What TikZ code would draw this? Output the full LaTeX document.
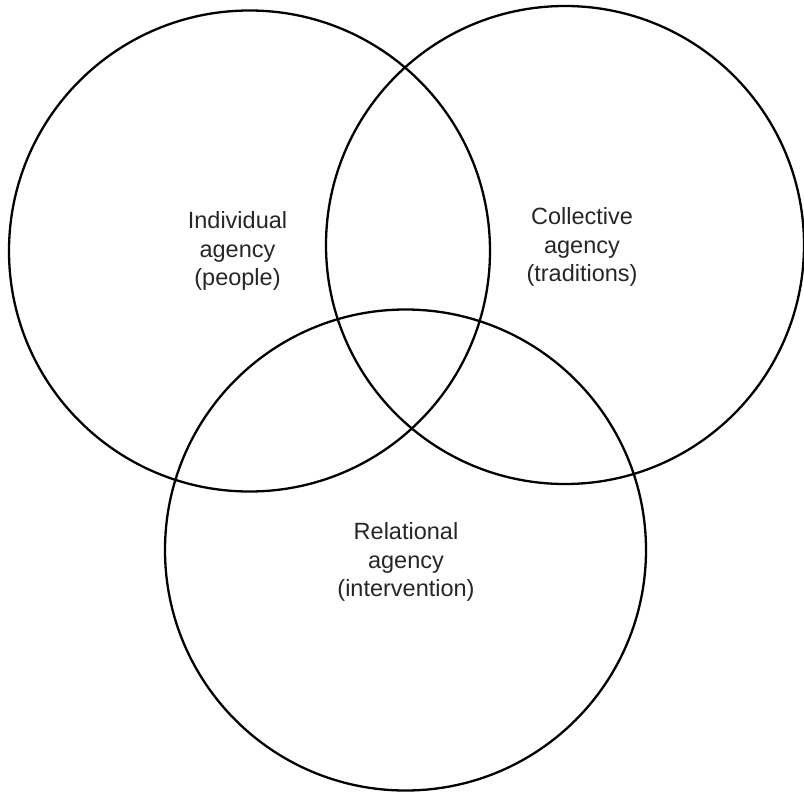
\documentclass[tikz,border=0pt]{standalone}
\usepackage{fontspec}
\setmainfont{Liberation Sans}
\usepackage{tikz}
\usetikzlibrary{positioning}

\begin{document}
\begin{tikzpicture}[
    x=1pt, y=-1pt,
    ring/.style={draw, circle, line width=2.3pt, inner sep=0pt},
    lbl/.style={align=center, text=black!85, font=\fontsize{23.5}{28.5}\selectfont}
  ]
    \useasboundingbox (0,0) rectangle (804,793);

    \node[ring, minimum size=481pt] (individual) at (249.5,251) {};
    \node[ring, minimum size=478pt] (collective) at (565,245) {};
    \node[ring, minimum size=481pt] (relational) at (405.5,550) {};

    \node[lbl] (indtext) at (237.5,251) {Individual\\agency\\(people)};
    \node[lbl] (coltext) at (582,247) {Collective\\agency\\(traditions)};
    \node[lbl] (reltext) at (406,562) {Relational\\agency\\(intervention)};
  \end{tikzpicture}
\end{document}
